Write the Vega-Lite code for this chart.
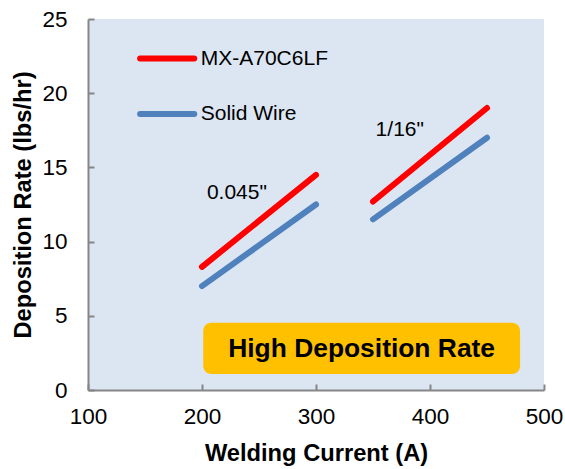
{
  "$schema": "https://vega.github.io/schema/vega-lite/v6.json",
  "width": 456,
  "height": 371,
  "autosize": {"type": "none"},
  "padding": {"left": 88, "top": 19, "right": 21, "bottom": 79},
  "background": "white",
  "config": {"view": {"fill": "#dce6f2", "stroke": null}, "font": "Liberation Sans"},
  "datasets": {
    "lines": [
      {"x": 200, "y": 8.3, "series": "MX-A70C6LF", "seg": "a"},
      {"x": 300, "y": 14.5, "series": "MX-A70C6LF", "seg": "a"},
      {"x": 350, "y": 12.7, "series": "MX-A70C6LF", "seg": "b"},
      {"x": 450, "y": 19.0, "series": "MX-A70C6LF", "seg": "b"},
      {"x": 200, "y": 7.0, "series": "Solid Wire", "seg": "a"},
      {"x": 300, "y": 12.5, "series": "Solid Wire", "seg": "a"},
      {"x": 350, "y": 11.5, "series": "Solid Wire", "seg": "b"},
      {"x": 450, "y": 17.0, "series": "Solid Wire", "seg": "b"},
      {"x": 145.7, "y": 22.33, "series": "MX-A70C6LF", "seg": "legend"},
      {"x": 193.2, "y": 22.33, "series": "MX-A70C6LF", "seg": "legend"},
      {"x": 145.7, "y": 18.6, "series": "Solid Wire", "seg": "legend"},
      {"x": 193.2, "y": 18.6, "series": "Solid Wire", "seg": "legend"}
    ],
    "labels": [
      {"x": 198.9, "y": 22.33, "text": "MX-A70C6LF"},
      {"x": 198.9, "y": 18.6, "text": "Solid Wire"},
      {"x": 204.3, "y": 13.27, "text": "0.045\""},
      {"x": 352.3, "y": 17.5, "text": "1/16\""}
    ],
    "box": [
      {"x": 201.1, "x2": 479.0, "y": 1.08, "y2": 4.54, "xc": 340, "yc": 2.75, "text": "High Deposition Rate"}
    ]
  },
  "encoding": {
    "x": {
      "field": "x",
      "type": "quantitative",
      "scale": {"domain": [100, 500], "nice": false, "zero": false},
      "axis": {
        "title": "Welding Current (A)",
        "values": [100, 200, 300, 400, 500],
        "grid": false,
        "domainColor": "#868686",
        "domainWidth": 2,
        "tickColor": "#868686",
        "tickWidth": 2,
        "tickSize": -6,
        "labelPadding": 21,
        "labelFontSize": 22.5,
        "labelColor": "#000000",
        "labelFlush": false,
        "labelOverlap": false,
        "titleFontSize": 23.7,
        "titleFontWeight": "bold",
        "titleColor": "#000000",
        "titleY": 70,
        "titleBaseline": "alphabetic"
      }
    },
    "y": {
      "field": "y",
      "type": "quantitative",
      "scale": {"domain": [0, 25], "nice": false},
      "axis": {
        "title": "Deposition Rate (lbs/hr)",
        "values": [0, 5, 10, 15, 20, 25],
        "grid": false,
        "domainColor": "#868686",
        "domainWidth": 2,
        "tickColor": "#868686",
        "tickWidth": 2,
        "tickSize": -6,
        "labelPadding": 27,
        "labelFontSize": 22.5,
        "labelColor": "#000000",
        "labelFlush": false,
        "labelOverlap": false,
        "titleFontSize": 23.7,
        "titleFontWeight": "bold",
        "titleColor": "#000000",
        "titleX": -58,
        "titleBaseline": "alphabetic"
      }
    }
  },
  "layer": [
    {
      "data": {"name": "box"},
      "mark": {"type": "rect", "fill": "#ffc000", "cornerRadius": 8},
      "encoding": {"x2": {"field": "x2"}, "y2": {"field": "y2"}}
    },
    {
      "data": {"name": "box"},
      "mark": {"type": "text", "fontSize": 26.4, "fontWeight": "bold", "color": "#000000", "align": "center", "baseline": "middle"},
      "encoding": {
        "x": {"field": "xc", "type": "quantitative"},
        "y": {"field": "yc", "type": "quantitative"},
        "text": {"field": "text"}
      }
    },
    {
      "data": {"name": "lines"},
      "mark": {"type": "line", "strokeWidth": 6, "strokeCap": "round"},
      "encoding": {
        "color": {
          "field": "series",
          "type": "nominal",
          "scale": {"domain": ["MX-A70C6LF", "Solid Wire"], "range": ["#ff0000", "#4f81bd"]},
          "legend": null
        },
        "detail": {"field": "seg"}
      }
    },
    {
      "data": {"name": "labels"},
      "mark": {"type": "text", "fontSize": 21, "color": "#000000", "align": "left", "baseline": "middle"},
      "encoding": {"text": {"field": "text"}}
    }
  ]
}
